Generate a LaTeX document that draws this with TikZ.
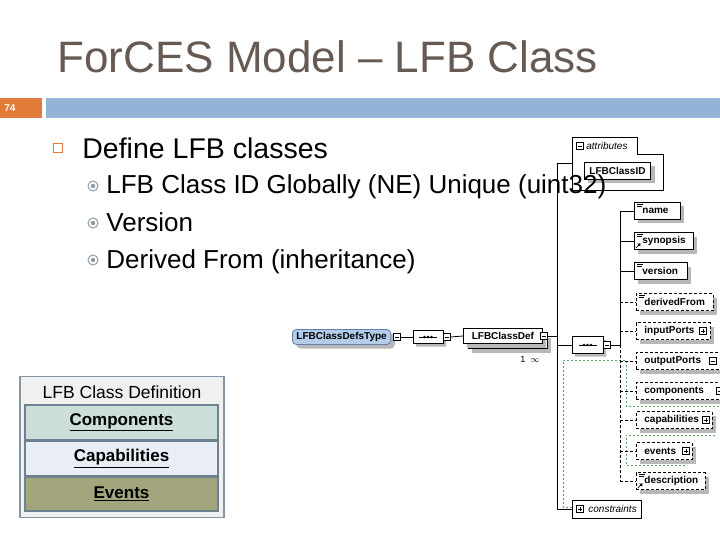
\documentclass[tikz,border=0pt]{standalone}
\usepackage{fontspec}
\setmainfont{Liberation Sans}
\usetikzlibrary{positioning,shadows,shapes.misc}

\definecolor{titlegray}{HTML}{675A52}
\definecolor{slideorange}{HTML}{E07B3A}
\definecolor{slideblue}{HTML}{95B3D6}
\definecolor{bulletgray}{HTML}{8F9AA3}
\definecolor{typeblue}{HTML}{B3CCEA}
\definecolor{typeframe}{HTML}{5F7FA8}
\definecolor{groupgreen}{HTML}{5E9E5E}
\definecolor{boxframe}{HTML}{8595A6}
\definecolor{rowframe}{HTML}{6F8090}
\definecolor{compfill}{HTML}{CCDEDA}
\definecolor{capfill}{HTML}{E8EDF6}
\definecolor{evfill}{HTML}{A3A67C}

\tikzset{
  shade box/.style={preaction={fill=black!28, transform canvas={xshift=4pt, yshift=-4pt}}},
  elem/.style={shade box, draw, fill=white, anchor=west, minimum height=17pt, inner xsep=8pt, inner ysep=0pt,
    align=left, font=\fontsize{10}{12}\selectfont\bfseries},
  optelem/.style={elem, dash pattern=on 3pt off 2pt},
  seqbox/.style={chamfered rectangle, chamfered rectangle xsep=4pt, draw, fill=white, inner sep=0pt,
    preaction={fill=black!28, transform canvas={xshift=3pt, yshift=-3pt}}},
  subbullet/.style={circle, draw=bulletgray, line width=1pt, minimum size=10pt, inner sep=0pt,
    path picture={\fill[bulletgray] (path picture bounding box.center) circle (2.2pt);}},
  subtext/.style={anchor=base west, inner sep=0pt, font=\fontsize{26}{30}\selectfont},
  row/.style={draw=rowframe, line width=1.6pt, minimum width=193pt, minimum height=34pt,
    inner sep=0pt, font=\fontsize{17}{20}\selectfont\bfseries},
  plusbox/.pic={\draw[fill=white, line width=0.7pt] (-3.5,-3.5) rectangle (3.5,3.5);
    \draw[line width=0.7pt] (-2,0) -- (2,0) (0,-2) -- (0,2);},
  minusbox/.pic={\draw[fill=white, line width=0.7pt] (-3.5,-3.5) rectangle (3.5,3.5);
    \draw[line width=0.7pt] (-2,0) -- (2,0);},
  eqmark/.pic={\draw[line width=0.7pt] (0,0) -- (6,0) (0,2.2) -- (5,2.2);},
  refarrow/.pic={\draw[line width=0.8pt] (0,0) -- (3,-3); \fill (4.5,-4.5) -- (1.2,-4.2) -- (4.2,-1.2) -- cycle;}
}

\begin{document}
\begin{tikzpicture}[x=1pt, y=-1pt, line width=0.8pt]
  \useasboundingbox (0,0) rectangle (720,540);

  % slide head
  \node[anchor=base west, inner sep=0pt, text=titlegray, font=\fontsize{44}{50}\selectfont] (title) at (57,73) {ForCES Model – LFB Class};
  \node[fill=slideorange, anchor=north west, minimum width=42pt, minimum height=20pt, inner xsep=4pt,
        text width=34pt, text=white, font=\fontsize{10}{12}\selectfont\bfseries] (num) at (0,98) {74};
  \node[fill=slideblue, anchor=north west, minimum width=674pt, minimum height=20pt, inner sep=0pt] (bar) at (46,98) {};

  % green group lines
  \draw[groupgreen, dash pattern=on 2pt off 2pt] (572,507) -- (563,507) -- (563,360) -- (626,360) -- (626,406) -- (720,406);
  \draw[groupgreen, dash pattern=on 2pt off 2pt] (715,435) -- (626,435) -- (626,465) -- (687,465);

  % schema: left part
  \node[elem, draw=typeframe, fill=typeblue, rounded corners=4pt, minimum height=15pt, inner xsep=4pt] (defs) at (292,337) {LFBClassDefsType};
  \pic at (397,337) {minusbox};
  \node[seqbox, minimum width=30pt, minimum height=13pt] (seq1) at (428,337) {};
  \draw ([xshift=-9pt]seq1.center) -- ([xshift=9pt]seq1.center);
  \foreach \d in {-3.5,0,3.5} \fill ([xshift=\d pt]seq1.center) circle (1.3pt);
  \pic at (447,337) {minusbox};
  \draw[fill=white, shade box] (468,333.5) rectangle (547,348.5);
  \node[elem, minimum height=15pt, minimum width=79pt, inner xsep=6pt, preaction={}] (def) at (463,336) {LFBClassDef};
  \pic at (544,336) {minusbox};
  \node[font=\fontsize{9}{10}\selectfont, inner sep=0pt] (mult) at (530,359) {1\ \ $\infty$};
  \draw (400.5,337) -- (seq1.west);
  \draw (450.5,337) -- (def.west);

  % schema: main spine
  \coordinate (vtop) at (557,163);
  \coordinate (vbot) at (557,509);
  \draw (vtop) -- (vbot);
  \draw (547.5,336) -- (557,336);

  % attributes
  \draw[fill=white] (572,137) -- (637,137) -- (637,154) -- (663,154) -- (663,190) -- (572,190) -- cycle;
  \pic at (580,146) {minusbox};
  \node[anchor=west, inner sep=0pt, font=\fontsize{10}{12}\selectfont\itshape] (attr) at (586,146) {attributes};
  \node[elem, inner xsep=5pt, minimum height=17pt] (classid) at (584,171) {LFBClassID};
  \draw (vtop) -- (572,163);

  % sequence of children
  \node[seqbox, minimum width=31pt, minimum height=17pt] (seq2) at (587.5,345) {};
  \draw ([xshift=-9pt]seq2.center) -- ([xshift=9pt]seq2.center);
  \foreach \d in {-3.5,0,3.5} \fill ([xshift=\d pt]seq2.center) circle (1.3pt);
  \pic at (607,345) {minusbox};
  \draw (557,345) -- (seq2.west);

  \node[elem, text width=30pt] (name) at (634,211) {name};
  \node[elem, text width=43pt] (synopsis) at (634,241) {synopsis};
  \node[elem, text width=37pt] (version) at (634,271) {version};
  \node[optelem, text width=61pt] (derived) at (636,302) {derivedFrom};
  \node[optelem, text width=58pt] (inports) at (636,331) {inputPorts};
  \node[optelem, text width=74pt] (outports) at (636,361) {outputPorts};
  \node[optelem, text width=74pt] (comps) at (636,391) {components};
  \node[optelem, text width=60pt] (caps) at (636,420) {capabilities};
  \node[optelem, text width=40pt] (events) at (636,451) {events};
  \node[optelem, text width=53pt] (descr) at (636,481) {description};

  \pic at (703,331) {plusbox};
  \pic at (713,361) {minusbox};
  \pic at (720,391) {plusbox};
  \pic at (706,420) {plusbox};
  \pic at (686,451) {plusbox};
  \foreach \e in {name,synopsis,version,derived,descr}
    \pic at ([xshift=3pt,yshift=-2.5pt]\e.north west) {eqmark};
  \foreach \e in {synopsis,descr}
    \pic at ([xshift=2pt,yshift=2pt]\e.south west) {refarrow};

  \coordinate (rtop) at (620,211);
  \coordinate (rmid) at (620,345);
  \coordinate (rbot) at (620,481);
  \draw (rtop) -- (rmid);
  \draw[dash pattern=on 3pt off 2pt] (rmid) -- (rbot);
  \draw (610.5,345) -- (rmid);
  \foreach \e in {name,synopsis,version}
    \draw (\e.west -| rtop) -- (\e.west);
  \foreach \e in {derived,inports,outports,comps,caps,events,descr}
    \draw[dash pattern=on 3pt off 2pt] (\e.west -| rtop) -- (\e.west);

  % constraints
  \node[draw, fill=white, anchor=west, minimum height=18pt, inner xsep=5pt, inner ysep=0pt,
        font=\fontsize{10}{12}\selectfont\itshape] (constr) at (572,509) {\hspace*{11pt}constraints};
  \pic at (580,509) {plusbox};
  \draw (vbot) -- (constr.west);

  % LFB class definition box
  \node[draw=boxframe, fill=black!6, line width=1.6pt, minimum width=204pt, minimum height=141pt, inner sep=0pt] (lfbdef) at (122,447) {};
  \node[font=\fontsize{17.5}{20}\selectfont, inner sep=0pt] (lfbtitle) at (122,392) {LFB Class Definition};
  \node[row, fill=compfill, minimum height=35pt] (compo) at (121.5,422.5) {\underline{Components}};
  \node[row, fill=capfill, below=0pt of compo] (capab) {\underline{Capabilities}};
  \node[row, fill=evfill, below=0pt of capab] (evts) {\underline{Events}};

  % bullets
  \node[draw=slideorange, line width=1.3pt, minimum size=9pt, inner sep=0pt] (sq) at (58,148) {};
  \node[anchor=base west, inner sep=0pt, font=\fontsize{28.5}{32}\selectfont] (define) at (82,159) {Define LFB classes};
  \node[subbullet] (d1) at (93,186) {};
  \node[subbullet] (d2) at (93,223) {};
  \node[subbullet] (d3) at (93,260) {};
  \node[subtext] (t1) at (106,194) {LFB Class ID Globally (NE) Unique (uint32)};
  \node[subtext] (t2) at (106,231) {Version};
  \node[subtext] (t3) at (106,268) {Derived From (inheritance)};
\end{tikzpicture}
\end{document}
